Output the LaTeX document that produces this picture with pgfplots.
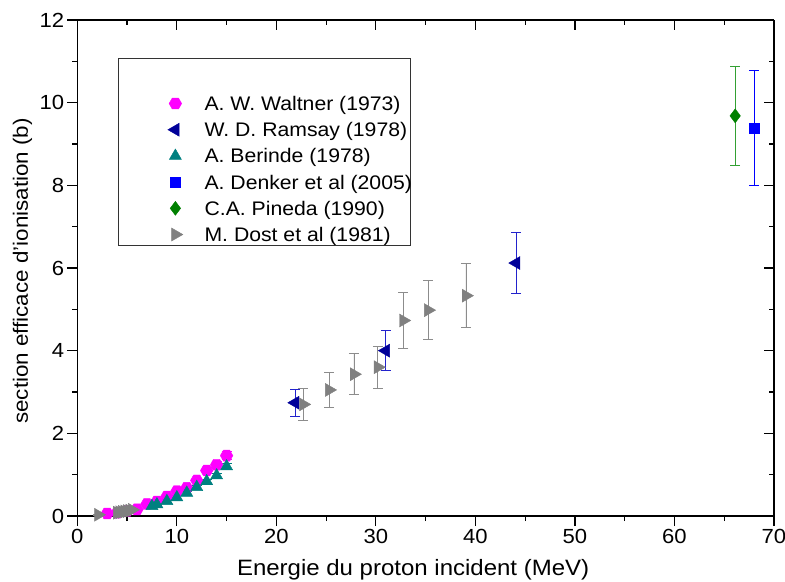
\documentclass[border=0pt]{standalone}
\usepackage{fontspec}
\setmainfont{Liberation Sans}[FakeStretch=1.08]
\usepackage{pgfplots}
\pgfplotsset{compat=1.18}
\definecolor{cwal}{HTML}{FF00FF}
\definecolor{cram}{HTML}{000099}
\definecolor{cramerr}{HTML}{2222CC}
\definecolor{cber}{HTML}{008080}
\definecolor{cden}{HTML}{0000FF}
\definecolor{cpin}{HTML}{008000}
\definecolor{cpinerr}{HTML}{33A033}
\definecolor{cdos}{HTML}{808080}
\definecolor{cdoserr}{HTML}{8C8C8C}
\pgfdeclareplotmark{hexagon*}{%
  \pgfpathmoveto{\pgfpointpolar{0}{\pgfplotmarksize}}%
  \pgfpathlineto{\pgfpointpolar{60}{\pgfplotmarksize}}%
  \pgfpathlineto{\pgfpointpolar{120}{\pgfplotmarksize}}%
  \pgfpathlineto{\pgfpointpolar{180}{\pgfplotmarksize}}%
  \pgfpathlineto{\pgfpointpolar{240}{\pgfplotmarksize}}%
  \pgfpathlineto{\pgfpointpolar{300}{\pgfplotmarksize}}%
  \pgfpathclose
  \pgfusepathqfillstroke}
\pgfplotstableread{
x y e
3 0.06 0.02
4 0.08 0.02
5 0.12 0.02
6 0.16 0.03
7 0.29 0.03
8 0.35 0.04
9 0.47 0.04
10 0.60 0.05
11 0.68 0.05
12 0.86 0.06
13 1.10 0.07
14 1.24 0.08
15 1.46 0.10
}\waltner
\pgfplotstableread{
x y e
21.9 2.74 0.32
31.0 4.00 0.49
44.1 6.12 0.73
}\ramsay
\pgfplotstableread{
x y e
7.5 0.24 0.03
8 0.28 0.03
9 0.36 0.03
10 0.45 0.04
11 0.56 0.04
12 0.70 0.05
13 0.84 0.05
14 0.98 0.06
15 1.20 0.07
}\berinde
\pgfplotstableread{
x y e
68.0 9.39 1.40
}\denker
\pgfplotstableread{
x y e
66.1 9.68 1.20
}\pineda
\pgfplotstableread{
x y e
2.1 0.03 0.01
4.0 0.08 0.01
4.25 0.09 0.01
4.5 0.10 0.01
4.75 0.11 0.01
5.0 0.12 0.01
5.25 0.13 0.01
5.5 0.15 0.01
22.7 2.70 0.38
25.3 3.05 0.42
27.8 3.43 0.50
30.2 3.60 0.51
32.75 4.73 0.68
35.25 4.98 0.72
39.05 5.33 0.78
}\dost
\begin{document}
\begin{tikzpicture}
\useasboundingbox (-77.3bp,-66bp) rectangle (707.7bp,516bp);
\pgfplotsset{
  commonax/.style={
    width=696.7bp, height=496bp, scale only axis,
    xmin=0, xmax=70, ymin=0, ymax=12,
    xtick={0,10,...,70}, ytick={0,2,...,12},
    minor x tick num=1, minor y tick num=1,
    major tick length=10bp, minor tick length=5bp,
    axis line style={line width=1.3bp, black},
    every tick/.style={line width=1.2bp, black},
    /pgf/number format/assume math mode=true,
    ticklabel style={font=\fontsize{20.5}{23}\selectfont},
  },
  errsty/.style={error bars/.cd, y dir=both, y explicit,
    error bar style={line width=0.9bp, #1},
    error mark options={line width=0.9bp, mark size=5bp, rotate=90, #1}},
}
% top/right axis with inner ticks
\begin{axis}[commonax,
  axis x line*=top, axis y line*=right, tick align=inside,
  xticklabels={}, yticklabels={}]
\end{axis}
\begin{axis}[commonax,
  axis x line*=bottom, axis y line*=left, tick align=outside,
  xticklabel style={inner ysep=3.5bp},
  yticklabel style={inner xsep=3bp},
  xlabel={Energie du proton incident (MeV)},
  ylabel={section efficace d'ionisation (b)},
  xlabel style={at={(axis description cs:0.482,-0.109)}, anchor=center, font=\fontsize{22.3}{26}\selectfont},
  ylabel style={at={(axis description cs:-0.0787,0.494)}, anchor=center, font=\fontsize{20.8}{24}\selectfont},
  legend cell align=left,
  legend style={draw=none, fill=none, at={(axis cs:8.81,10.25)}, anchor=north west,
    inner sep=0bp, row sep=4.2bp, column sep=0bp,
    font=\fontsize{19.7}{23}\selectfont,
    nodes={inner sep=0bp, text height=18bp, text depth=4bp}},
  legend image code/.code={\path (-10bp,0bp) (29bp,0bp); \draw[#1] plot coordinates {(0bp,0bp)};},
]
\draw[line width=1bp, black!80] (axis cs:4.12,11.07) rectangle (axis cs:33.43,6.54);
\addplot[only marks, mark=hexagon*, mark size=6.3bp, color=cwal, fill=cwal, errsty=cwal]
  table[x=x, y=y, y error=e] {\waltner};
\addlegendentry{A. W. Waltner (1973)}
\addplot[only marks, mark=triangle*, mark size=7.5bp, mark options={rotate=90}, color=cram, fill=cram, errsty=cramerr]
  table[x=x, y=y, y error=e] {\ramsay};
\addlegendentry{W. D. Ramsay (1978)}
\addplot[only marks, mark=triangle*, mark size=7bp, color=cber, fill=cber, errsty=cber]
  table[x=x, y=y, y error=e] {\berinde};
\addlegendentry{A. Berinde (1978)}
\addplot[only marks, mark=square*, mark size=5bp, color=cden, fill=cden, errsty=cden]
  table[x=x, y=y, y error=e] {\denker};
\addlegendentry{A. Denker et al (2005)}
\addplot[only marks, mark=diamond*, mark size=7bp, color=cpin, fill=cpin, errsty=cpinerr]
  table[x=x, y=y, y error=e] {\pineda};
\addlegendentry{C.A. Pineda (1990)}
\addplot[only marks, mark=triangle*, mark size=7.5bp, mark options={rotate=-90}, color=cdos, fill=cdos, errsty=cdoserr]
  table[x=x, y=y, y error=e] {\dost};
\addlegendentry{M. Dost et al (1981)}
\end{axis}
\end{tikzpicture}
\end{document}
